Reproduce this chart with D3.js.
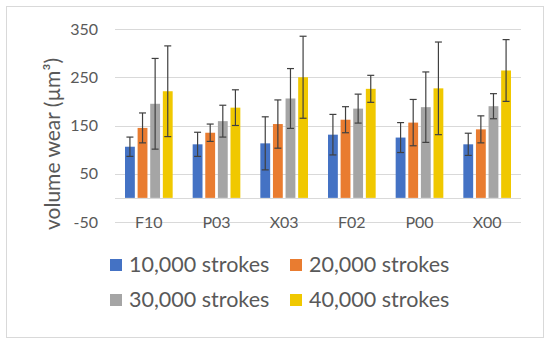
<!DOCTYPE html>
<html>
<head>
<meta charset="utf-8">
<script src="https://cdn.jsdelivr.net/npm/d3@7"></script>
<style>
  body { margin: 0; background: #fff; }
  text { font-family: Lato, "Open Sans", sans-serif; fill: #595959; }
</style>
</head>
<body>
<script>
var width = 550, height = 347;

// data
var categories = ['F10', 'P03', 'X03', 'F02', 'P00', 'X00'];
var seriesNames = ['10,000 strokes', '20,000 strokes', '30,000 strokes', '40,000 strokes'];
var s10k = [106, 111, 113, 131, 125, 111];
var s20k = [145, 135, 153, 162, 156, 142];
var s30k = [195, 159, 206, 185, 188, 190];
var s40k = [221, 187, 250, 226, 227, 264];
var e10k = [20, 25, 55, 42, 31, 23];
var e20k = [31, 18, 50, 27, 48, 28];
var e30k = [94, 33, 62, 30, 73, 26];
var e40k = [94, 37, 85, 28, 96, 64];
var yTicks = [-50, 50, 150, 250, 350];
var colors = ['#4472C4', '#E97C30', '#A5A5A5', '#F0C800'];

var values = [s10k, s20k, s30k, s40k];
var errors = [e10k, e20k, e30k, e40k];

var margins = { top: 29, left: 115, right: 29, bottom: 125 };
var plotW = width - margins.left - margins.right;
var plotH = height - margins.top - margins.bottom;

var svg = d3.select('body')
  .append('svg')
  .attr('width', width)
  .attr('height', height);

// outer frame
svg.append('rect')
  .attr('x', 6.5).attr('y', 6.5)
  .attr('width', 537).attr('height', 331)
  .attr('fill', '#fff').attr('stroke', '#d9d9d9');

var g = svg.append('g')
  .attr('transform', 'translate(' + margins.left + ',' + margins.top + ')');

var x = d3.scaleBand().domain(categories).range([0, plotW]).paddingInner(0).paddingOuter(0);
var xs = d3.scaleBand().domain(d3.range(4)).range([10, x.bandwidth() - 10]).paddingInner(0.22);
var y = d3.scaleLinear().domain([-50, 350]).range([plotH, 0]);

// gridlines
g.selectAll('.grid').data(yTicks.concat([0])).enter()
  .append('line')
  .attr('x1', 0).attr('x2', plotW)
  .attr('y1', function (d) { return Math.round(y(d)) + 0.5; })
  .attr('y2', function (d) { return Math.round(y(d)) + 0.5; })
  .attr('stroke', '#d9d9d9').attr('stroke-width', 1);

// y axis labels (plain hyphen for negatives, like the original)
var yAxis = d3.axisLeft(y).tickValues(yTicks).tickSize(0).tickPadding(17)
  .tickFormat(function (d) { return String(d); });
var yg = g.append('g').call(yAxis);
yg.select('.domain').remove();
yg.selectAll('text').style('font-size', '16px').attr('fill', '#595959');

// category labels (on the -50 line)
g.selectAll('.cat').data(categories).enter()
  .append('text')
  .attr('x', function (d) { return x(d) + x.bandwidth() / 2; })
  .attr('y', y(-50) + 6)
  .attr('text-anchor', 'middle')
  .style('font-size', '16px')
  .text(function (d) { return d; });

// bars
var series = g.selectAll('.series').data(values).enter()
  .append('g')
  .attr('fill', function (d, i) { return colors[i]; });

series.selectAll('rect').data(function (d, i) {
    return d.map(function (v, j) { return { s: i, c: categories[j], v: v, e: errors[i][j] }; });
  }).enter()
  .append('rect')
  .attr('x', function (d) { return x(d.c) + xs(d.s); })
  .attr('y', function (d) { return y(d.v); })
  .attr('width', xs.bandwidth())
  .attr('height', function (d) { return y(0) - y(d.v); });

// error bars
var allPts = [];
values.forEach(function (arr, i) {
  arr.forEach(function (v, j) { allPts.push({ s: i, c: categories[j], v: v, e: errors[i][j] }); });
});
var eb = g.append('g').attr('stroke', '#404040').attr('stroke-width', 1.2);
var cx = function (d) { return x(d.c) + xs(d.s) + xs.bandwidth() / 2; };
eb.selectAll('.ev').data(allPts).enter().append('line')
  .attr('x1', cx).attr('x2', cx)
  .attr('y1', function (d) { return y(d.v + d.e); })
  .attr('y2', function (d) { return y(d.v - d.e); });
[1, -1].forEach(function (sgn) {
  eb.selectAll('.cap' + sgn).data(allPts).enter().append('line')
    .attr('x1', function (d) { return cx(d) - 3.5; })
    .attr('x2', function (d) { return cx(d) + 3.5; })
    .attr('y1', function (d) { return y(d.v + sgn * d.e); })
    .attr('y2', function (d) { return y(d.v + sgn * d.e); });
});

// y axis title
svg.append('text')
  .attr('transform', 'translate(60,144) rotate(-90)')
  .attr('text-anchor', 'middle')
  .style('font-size', '21px')
  .text('volume wear (\u00b5m\u00b3)');

// legend
var legend = svg.append('g');
var lg = legend.selectAll('g').data(seriesNames).enter()
  .append('g')
  .attr('transform', function (d, i) {
    return 'translate(' + (i % 2 === 0 ? 110 : 290) + ',' + (i < 2 ? 259 : 294) + ')';
  });
lg.append('rect')
  .attr('width', 12).attr('height', 12)
  .attr('fill', function (d, i) { return colors[i]; });
lg.append('text')
  .attr('x', 19).attr('y', 13)
  .style('font-size', '21.5px')
  .text(function (d) { return d; });
</script>
</body>
</html>
